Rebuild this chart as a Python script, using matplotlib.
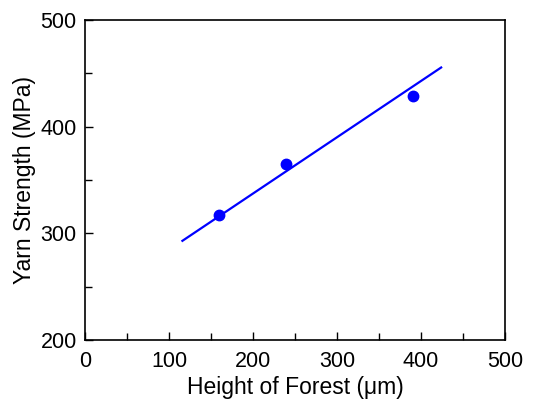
import numpy as np
import matplotlib.pyplot as plt
from matplotlib.ticker import MultipleLocator

plt.rcParams['font.family'] = ['Liberation Sans', 'DejaVu Sans']

# measured points
height = [160, 239, 390]
strength = [317, 365, 429]

# fitted line end points
fit_x = [116, 424]
fit_y = [293, 455.5]

fig = plt.figure(figsize=(5.43, 4.03), dpi=100)
ax = fig.add_axes([0.1565, 0.1563, 0.7735, 0.794])

ax.plot(fit_x, fit_y, color='#0000ff', lw=1.6)
ax.plot(height, strength, 'o', color='#0000ff', ms=7.5)

ax.set_xlim(0, 500)
ax.set_ylim(200, 500)
ax.xaxis.set_major_locator(MultipleLocator(100))
ax.xaxis.set_minor_locator(MultipleLocator(50))
ax.yaxis.set_major_locator(MultipleLocator(100))
ax.yaxis.set_minor_locator(MultipleLocator(50))
ax.tick_params(which='both', direction='in', labelsize=15.5, width=1)
ax.tick_params(axis='x', pad=8)
ax.tick_params(axis='y', pad=6)
ax.tick_params(which='major', length=6)
ax.tick_params(which='minor', length=5)

for s in ax.spines.values():
    s.set_linewidth(1.2)

ax.set_xlabel('Height of Forest (μm)', fontsize=16.5, labelpad=3)
ax.set_ylabel('Yarn Strength (MPa)', fontsize=16.5, labelpad=3)

fig.savefig('out.png', dpi=100)
